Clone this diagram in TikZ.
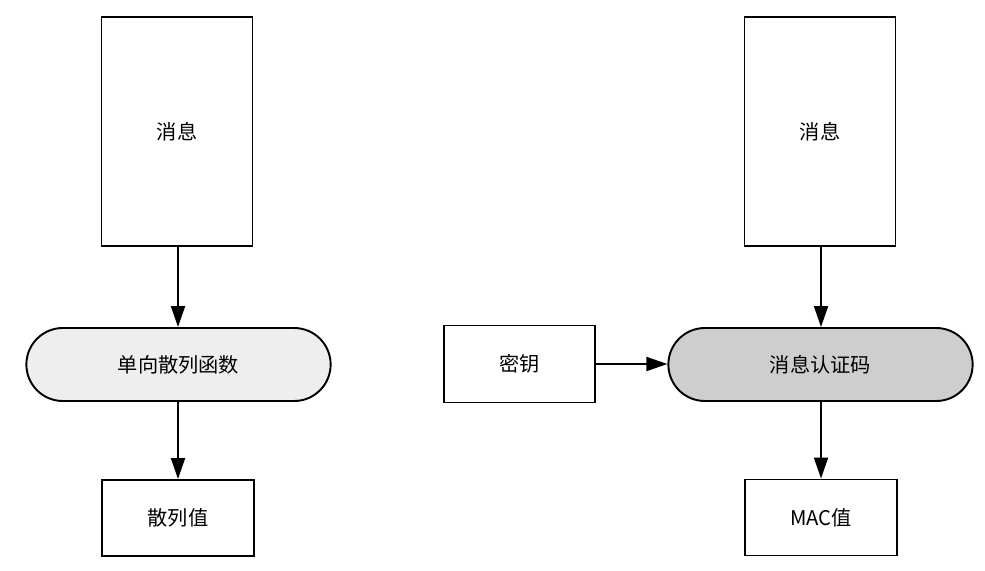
\documentclass[tikz,border=0pt]{standalone}
\usepackage{fontspec}
\setmainfont{Noto Sans CJK SC}
\usepackage{xcolor}
\usetikzlibrary{arrows.meta}
\usetikzlibrary{backgrounds}
\usetikzlibrary{shapes,shapes.misc}
\pgfdeclarelayer{edgelayer}
\pgfdeclarelayer{nodelayer}
\pgfsetlayers{background,edgelayer,nodelayer,main}
\tikzstyle{none}=[inner sep=0mm]
\tikzstyle{box}=[draw=black,line width=1.1pt,fill=white,shape=rectangle,font=\fontsize{11.5}{13}\selectfont]
\tikzstyle{msgbox}=[box,minimum width=3.02cm,minimum height=4.58cm]
\tikzstyle{outbox}=[box,minimum width=3.04cm,minimum height=1.52cm]
\tikzstyle{keybox}=[box,minimum width=3.02cm,minimum height=1.54cm]
\tikzstyle{pill}=[box,shape=rounded rectangle,minimum width=6.32cm,minimum height=1.46cm]
\tikzstyle{diredge}=[line width=1.1pt,-{Triangle[length=0.42cm,width=0.28cm]}]
\tikzset{
	pill/.append style={fill={rgb,255:red,238;green,238;blue,238}},
	dark pill/.style={pill,fill={rgb,255:red,206;green,206;blue,206}}
}
\begin{document}
\begin{tikzpicture}
	\useasboundingbox (0,0) rectangle (19.7,-11.4);
	\begin{pgfonlayer}{nodelayer}
		\node [style=msgbox] (0) at (3.54, -2.63) {消息};
		\node [style=pill] (1) at (3.57, -7.29) {单向散列函数};
		\node [style=outbox] (2) at (3.56, -10.36) {散列值};
		\node [style=msgbox] (3) at (16.4, -2.63) {消息};
		\node [style=dark pill] (4) at (16.41, -7.29) {消息认证码};
		\node [style=outbox] (5) at (16.42, -10.35) {MAC值};
		\node [style=keybox] (6) at (10.39, -7.28) {密钥};
	\end{pgfonlayer}
	\begin{pgfonlayer}{edgelayer}
		\draw [style=diredge] (0.south -| 2.north) to (1.north -| 2.north);
		\draw [style=diredge] (1.south -| 2.north) to (2.north);
		\draw [style=diredge] (3.south -| 5.north) to (4.north -| 5.north);
		\draw [style=diredge] (4.south -| 5.north) to (5.north);
		\draw [style=diredge] (6.east) to (6.east -| 4.west);
	\end{pgfonlayer}
\end{tikzpicture}
\end{document}
